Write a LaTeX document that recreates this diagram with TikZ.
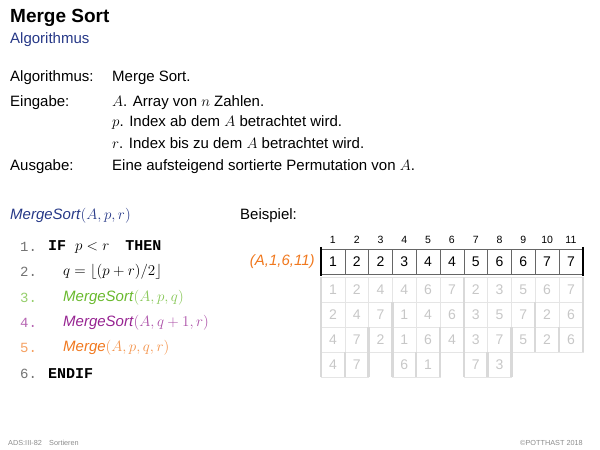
\RequirePackage{fix-cm}
\documentclass[tikz,border=0pt]{standalone}
\usepackage{fontspec}
\setmainfont{Liberation Sans}
\setmonofont{Liberation Mono}
\usetikzlibrary{positioning}
\definecolor{titleblue}{RGB}{38,56,135}
\definecolor{codegreen}{RGB}{105,185,45}
\definecolor{codepurple}{RGB}{150,35,145}
\definecolor{codeorange}{RGB}{240,120,30}
\tikzset{
  txt/.style={anchor=west, inner sep=0pt, font=\fontsize{15}{18}\selectfont},
  lno/.style={anchor=west, inner sep=0pt, font=\fontsize{14}{17}\selectfont\ttfamily, text=black!55},
  cell/.style={draw=black!60, minimum width=23.8pt, minimum height=25pt, inner sep=0pt, font=\fontsize{14}{16}\selectfont},
  gcell/.style={draw=black!10, text=black!22, minimum width=23.8pt, minimum height=25pt, inner sep=0pt, font=\fontsize{14}{16}\selectfont},
  idx/.style={inner sep=0pt, font=\fontsize{10.5}{12}\selectfont},
  bar/.style={line width=2.5pt, draw=black},
  gbar/.style={line width=2.5pt, draw=black!15},
  foot/.style={inner sep=0pt, text=black!45, font=\fontsize{7.3}{8}\selectfont}
}

\begin{document}
\begin{tikzpicture}[x=1pt, y=-1pt]
  \useasboundingbox (0,0) rectangle (600,450);
  % header
  \node[txt, font=\fontsize{19}{22}\selectfont\bfseries] (title) at (10,18) {Merge Sort};
  \node[txt, text=titleblue] (subtitle) at (10,40) {Algorithmus};
  % problem definition
  \node[txt] (alg) at (10,78) {Algorithmus:};
  \node[txt] (algv) at (112,78) {Merge Sort.};
  \node[txt] (inp) at (10,103) {Eingabe:};
  \node[txt] (inpa) at (112,103) {$A$. Array von $n$ Zahlen.};
  \node[txt] (inpp) at (112,123) {$p$. Index ab dem $A$ betrachtet wird.};
  \node[txt] (inpr) at (112,143) {$r$. Index bis zu dem $A$ betrachtet wird.};
  \node[txt] (out) at (10,167) {Ausgabe:};
  \node[txt] (outv) at (112,167) {Eine aufsteigend sortierte Permutation von $A$.};
  % pseudo code
  \node[txt, text=titleblue] (sig) at (10,216) {\textit{MergeSort}$(A,p,r)$};
  \node[lno] (l1) at (20,247) {1.};
  \node[txt] (c1code) at (48,247) {\textbf{\texttt{IF}}\hspace{9pt}$p<r$\hspace{16pt}\textbf{\texttt{THEN}}};
  \node[lno] (l2) at (20,272) {2.};
  \node[txt] (c2code) at (63,272) {$q=\lfloor(p+r)/2\rfloor$};
  \node[lno, text=codegreen!70] (l3) at (20,298) {3.};
  \node[txt, text=codegreen] (c3code) at (63,298) {\textit{MergeSort}\textcolor{codegreen!80}{$(A,p,q)$}};
  \node[lno, text=codepurple!70] (l4) at (20,323) {4.};
  \node[txt, text=codepurple] (c4code) at (63,323) {\textit{MergeSort}\textcolor{codepurple!80}{$(A,q+1,r)$}};
  \node[lno, text=codeorange!70] (l5) at (20,348) {5.};
  \node[txt, text=codeorange] (c5code) at (63,348) {\textit{Merge}\textcolor{codeorange!80}{$(A,p,q,r)$}};
  \node[lno] (l6) at (20,374) {6.};
  \node[txt] (c6code) at (48,374) {\textbf{\texttt{ENDIF}}};
  % example
  \node[txt] (beispiel) at (240,216) {Beispiel:};
  \foreach \v [count=\i] in {1,2,2,3,4,4,5,6,6,7,7} {
    \node[cell] (c\i) at ({321+(\i-0.5)*23.8},261.5) {\v};
    \node[idx, above=5pt of c\i] (i\i) {\i};
  }
  \draw[bar] ([yshift=2pt]c1.north west) -- ([yshift=-2pt]c1.south west);
  \draw[bar] ([yshift=2pt]c11.north east) -- ([yshift=-2pt]c11.south east);
  \node[inner sep=0pt, left=6pt of c1, text=codeorange, font=\fontsize{15}{18}\selectfont\itshape] (call) {(A,1,6,11)};
  % recursion levels
  \foreach \r/\vals in {1/{1,2,4,4,6,7,2,3,5,6,7}, 2/{2,4,7,1,4,6,3,5,7,2,6}, 3/{4,7,2,1,6,4,3,7,5,2,6}}
    \foreach \v [count=\i] in \vals
      \node[gcell] (g\r-\i) at ({321+(\i-0.5)*23.8},{289.5+(\r-1)*25}) {\v};
  \foreach \i/\v in {1/4,2/7,4/6,5/1,7/7,8/3}
    \node[gcell] (g4-\i) at ({321+(\i-0.5)*23.8},364.5) {\v};
  \foreach \r/\ks in {1/{0,6,11}, 2/{0,3,6,9,11}, 3/{0,2,3,5,6,8,9,10,11}, 4/{0,1,2,3,4,5,6,7,8}}
    \foreach \k in \ks
      \draw[gbar] ({321+\k*23.8},{277+(\r-1)*25}) -- ++(0,25);
  % footer
  \node[foot, anchor=west] (fl) at (8,443) {ADS:III-82\quad Sortieren};
  \node[foot, anchor=east] (fr) at (583,443) {\textcopyright POTTHAST 2018};
\end{tikzpicture}
\end{document}
